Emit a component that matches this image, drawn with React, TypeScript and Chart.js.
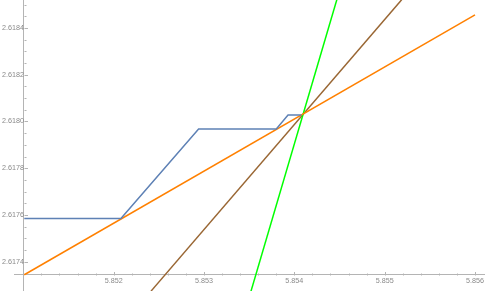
import React, { useEffect, useRef } from 'react';
import { Chart, registerables } from 'chart.js';

Chart.register(...registerables);

// Blue step-like path
const blueX = [5.85101, 5.85208, 5.85294, 5.8538, 5.85393, 5.85408];
const blueY = [2.617585, 2.617585, 2.617968, 2.617968, 2.618028, 2.618028];
// Orange line
const orangeX = [5.85101, 5.856];
const orangeY = [2.617344, 2.618456];
// Green line
const greenX = [5.85352, 5.85447];
const greenY = [2.617274, 2.618521];
// Brown line
const brownX = [5.852413, 5.855188];
const brownY = [2.617274, 2.618521];

// Axis ranges and origins
const X_MIN = 5.8508963;
const X_MAX = 5.8561105;
const Y_MIN = 2.6172745;
const Y_MAX = 2.6185199;
const X_ORIGIN = 5.851007;
const Y_ORIGIN = 2.6173431;
const X_MAJOR = 0.001;
const X_MINOR = 0.0002;
const Y_MAJOR = 0.0002;
const Y_MINOR = 0.00005;

const pts = (xs: number[], ys: number[]) => xs.map((x, i) => ({ x, y: ys[i] }));
const isMultiple = (v: number, step: number) => Math.abs(v / step - Math.round(v / step)) < 1e-4;

const AXIS_COLOR = '#b4b4b4';
const LABEL_COLOR = '#8a8a8a';
const AREA = { left: 14, top: 0, right: 485, bottom: 291 };

// Force the plot area to the full frame (Mathematica-style axes crossing inside the plot)
const areaPlugin = {
  id: 'fullArea',
  afterLayout(chart: any) {
    const ca = chart.chartArea;
    ca.left = AREA.left;
    ca.top = AREA.top;
    ca.right = AREA.right;
    ca.bottom = AREA.bottom;
    ca.width = AREA.right - AREA.left;
    ca.height = AREA.bottom - AREA.top;
    const xs = chart.scales.x;
    xs.left = AREA.left;
    xs.right = AREA.right;
    xs.width = AREA.right - AREA.left;
    xs.configure();
    const ys = chart.scales.y;
    ys.top = AREA.top;
    ys.bottom = AREA.bottom;
    ys.height = AREA.bottom - AREA.top;
    ys.configure();
  },
};

const tickPlugin = {
  id: 'mmaTicks',
  beforeDatasetsDraw(chart: any) {
    const xs = chart.scales.x;
    const ys = chart.scales.y;
    const ctx = chart.ctx;
    const axisY = Math.round(ys.getPixelForValue(Y_ORIGIN)) + 0.5;
    const axisX = Math.round(xs.getPixelForValue(X_ORIGIN)) + 0.5;
    ctx.save();
    ctx.strokeStyle = AXIS_COLOR;
    ctx.lineWidth = 1;
    ctx.beginPath();
    xs.ticks.forEach((t: any) => {
      const px = Math.round(xs.getPixelForValue(t.value)) + 0.5;
      if (px <= axisX + 1) return;
      const len = isMultiple(t.value, X_MAJOR) ? 3.5 : 2;
      ctx.moveTo(px, axisY);
      ctx.lineTo(px, axisY - len);
    });
    ys.ticks.forEach((t: any) => {
      const py = Math.round(ys.getPixelForValue(t.value)) + 0.5;
      if (py >= axisY - 2) return;
      const len = isMultiple(t.value, Y_MAJOR) ? 3.5 : 2;
      ctx.moveTo(axisX, py);
      ctx.lineTo(axisX + len, py);
    });
    ctx.stroke();
    ctx.restore();
  },
};

export default function App() {
  const ref = useRef<HTMLCanvasElement | null>(null);
  useEffect(() => {
    document.body.style.margin = '0';
    if (!ref.current) return;
    const font = { family: 'Liberation Sans', size: 7.2 };
    const lineDs = (label: string, data: any, color: string) => ({
      label,
      data,
      borderColor: color,
      backgroundColor: color,
      borderWidth: 1.5,
      pointRadius: 0,
      tension: 0,
      fill: false,
    });
    const chart = new Chart(ref.current, {
      type: 'line',
      data: {
        datasets: [
          lineDs('blue', pts(blueX, blueY), '#5E81B5'),
          lineDs('orange', pts(orangeX, orangeY), '#FF8000'),
          lineDs('green', pts(greenX, greenY), '#00FF00'),
          lineDs('brown', pts(brownX, brownY), '#996633'),
        ],
      },
      options: {
        animation: false,
        responsive: false,
        devicePixelRatio: 1,
        layout: { padding: { left: 14, right: 0, top: 0, bottom: 0 } },
        plugins: { legend: { display: false }, tooltip: { enabled: false } },
        scales: {
          x: {
            type: 'linear',
            min: X_MIN,
            max: X_MAX,
            position: { y: Y_ORIGIN } as any,
            grid: { display: false, drawTicks: false },
            border: { display: true, color: AXIS_COLOR, width: 1 },
            ticks: {
              stepSize: X_MINOR,
              includeBounds: false,
              autoSkip: false,
              maxRotation: 0,
              minRotation: 0,
              padding: 2,
              color: LABEL_COLOR,
              font,
              callback: (v: any) => {
                const n = Number(v);
                if (n <= X_ORIGIN + 1e-6) return '';
                return isMultiple(n, X_MAJOR) ? n.toFixed(3) : '';
              },
            },
          },
          y: {
            type: 'linear',
            min: Y_MIN,
            max: Y_MAX,
            position: { x: X_ORIGIN } as any,
            grid: { display: false, drawTicks: false },
            border: { display: true, color: AXIS_COLOR, width: 1 },
            ticks: {
              stepSize: Y_MINOR,
              includeBounds: false,
              autoSkip: false,
              padding: 3,
              color: LABEL_COLOR,
              font,
              callback: (v: any) => {
                const n = Number(v);
                if (n <= Y_ORIGIN + 1e-7) return '';
                return isMultiple(n, Y_MAJOR) ? n.toFixed(4) : '';
              },
            },
          },
        },
      },
      plugins: [areaPlugin, tickPlugin],
    });
    return () => chart.destroy();
  }, []);
  return (
    <div style={{ position: 'absolute', left: 0, top: 0, width: 485, height: 291 }}>
      <canvas ref={ref} width={485} height={291} />
    </div>
  );
}
